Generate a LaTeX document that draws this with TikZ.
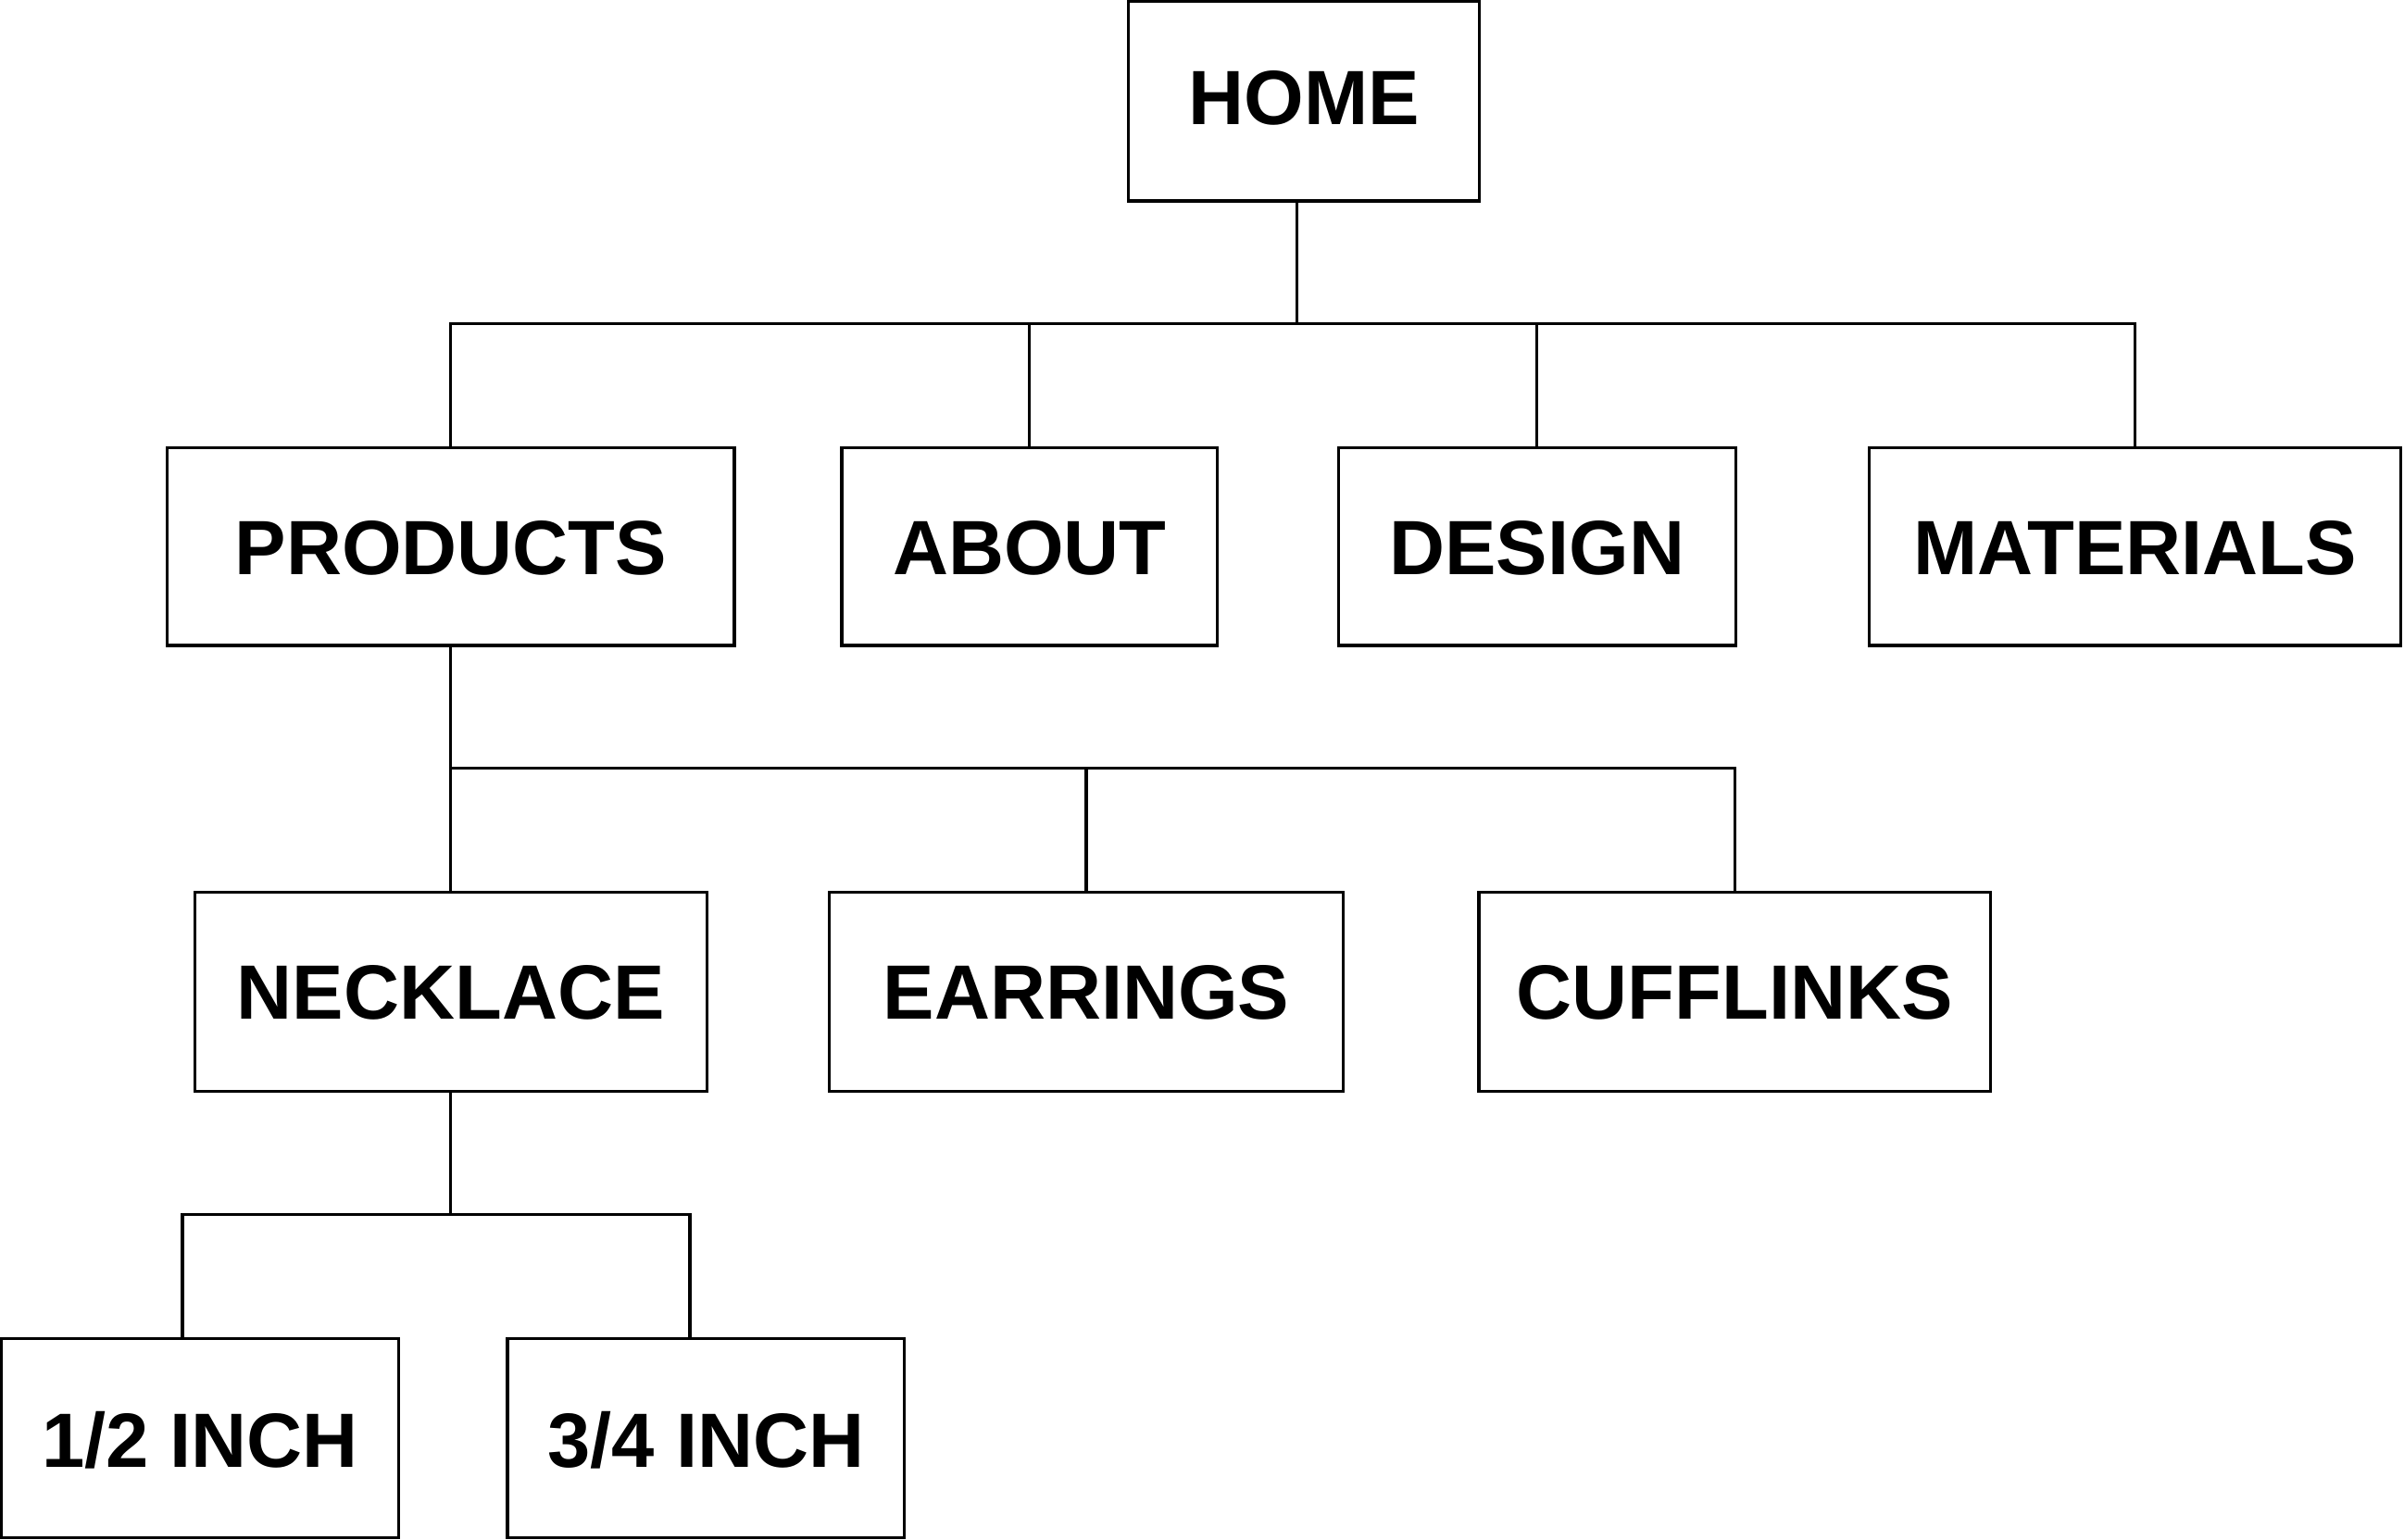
\documentclass[tikz,border=0pt]{standalone}
\usepackage{fontspec}
\setmainfont{Liberation Sans}
\begin{document}
\begin{tikzpicture}[x=0.5pt,y=-0.5pt,
  box/.style={draw,line width=1pt,inner sep=0pt,font=\fontsize{25.1}{30}\selectfont\bfseries,text height=18pt,text depth=0pt},
  link/.style={line width=1pt}]
\useasboundingbox (0,0) rectangle (1568,1004);
\node[box,minimum width=114.5pt,minimum height=65pt,text height=15pt] (home) at (850.5,66) {HOME};
\node[box,minimum width=185pt,minimum height=64.5pt] (products) at (294,356.5) {PRODUCTS};
\node[box,minimum width=122.5pt,minimum height=64.5pt] (about) at (671.5,356.5) {ABOUT};
\node[box,minimum width=129.5pt,minimum height=64.5pt] (design) at (1002.5,356.5) {DESIGN};
\node[box,minimum width=173.5pt,minimum height=64.5pt] (materials) at (1392.5,356.5) {MATERIALS};
\node[box,minimum width=167pt,minimum height=65pt] (necklace) at (294,647) {NECKLACE};
\node[box,minimum width=167.5pt,minimum height=65pt] (earrings) at (708.5,647) {EARRINGS};
\node[box,minimum width=167pt,minimum height=65pt] (cufflinks) at (1131.5,647) {CUFFLINKS};
\node[box,minimum width=129.5pt,minimum height=65pt,text height=19pt] (half) at (130.5,938) {1/2 INCH};
\node[box,minimum width=129.5pt,minimum height=65pt,text height=19pt] (threeq) at (460.5,938) {3/4 INCH};
\coordinate (b1) at (846,211);
\coordinate (b2) at (293,501);
\coordinate (c1) at (119,792);
\coordinate (c2) at (450,792);
% level 1
\draw[link] (home.south -| b1) -- (b1);
\draw[link] (products.north) -- (products.north |- b1) -- (materials.north |- b1) -- (materials.north);
\draw[link] (about.north) -- (about.north |- b1);
\draw[link] (design.north) -- (design.north |- b1);
% level 2
\draw[link] (products.south) -- (products.south |- b2) -- (cufflinks.north |- b2) -- (cufflinks.north);
\draw[link] (necklace.north) -- (necklace.north |- b2);
\draw[link] (earrings.north) -- (earrings.north |- b2);
% level 3
\draw[link] (necklace.south) -- (necklace.south |- c1);
\draw[link] (c1 |- half.north) -- (c1) -- (c2) -- (c2 |- threeq.north);
\end{tikzpicture}
\end{document}
